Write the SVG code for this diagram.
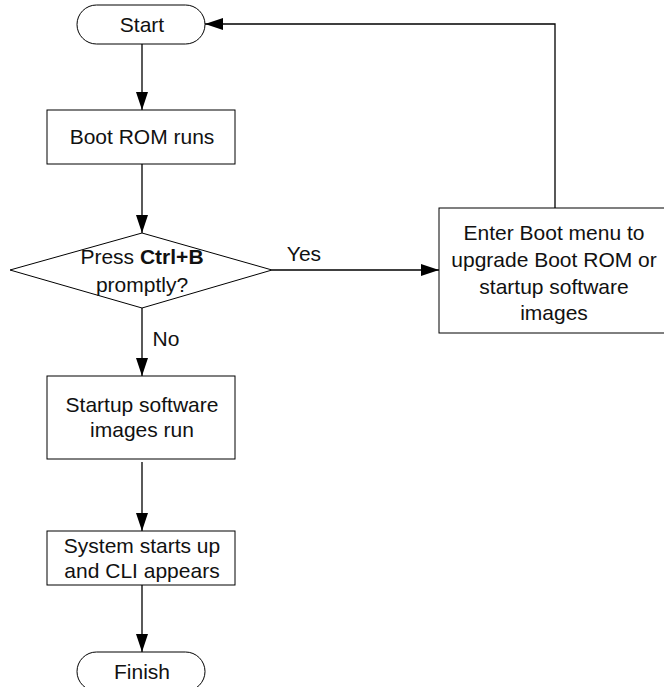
<svg xmlns="http://www.w3.org/2000/svg" width="664" height="687" viewBox="0 0 664 687">
<defs>
<marker id="arr" markerUnits="userSpaceOnUse" markerWidth="18" markerHeight="12" refX="18" refY="6" orient="auto">
<path d="M0,0 L18,6 L0,12 z" fill="#000"/>
</marker>
<style>
.n{fill:#fff;stroke:#000;stroke-width:1}
.t{font-family:"Liberation Sans",Arial,sans-serif;font-size:21px;fill:#111;text-anchor:middle}
.c{fill:none;stroke:#000;stroke-width:1.3}
</style>
</defs>
<rect width="664" height="687" fill="#fff"/>
<g id="connectors">
<line class="c" x1="142" y1="44" x2="142" y2="110" marker-end="url(#arr)"/>
<line class="c" x1="142" y1="164" x2="142" y2="233" marker-end="url(#arr)"/>
<line class="c" x1="272" y1="270" x2="439" y2="270" marker-end="url(#arr)"/>
<polyline class="c" points="555,208 555,24 205,24" marker-end="url(#arr)"/>
<line class="c" x1="142" y1="308" x2="142" y2="376" marker-end="url(#arr)"/>
<line class="c" x1="142" y1="462" x2="142" y2="531" marker-end="url(#arr)"/>
<line class="c" x1="142" y1="585" x2="142" y2="652" marker-end="url(#arr)"/>
<text class="t" x="304" y="261">Yes</text>
<text class="t" x="166" y="346">No</text>
</g>
<g id="start">
<rect class="n" x="77" y="5" width="128" height="39" rx="19.5"/>
<text class="t" x="142" y="32">Start</text>
</g>
<g id="bootrom">
<rect class="n" x="47" y="110" width="188" height="54"/>
<text class="t" x="142" y="144">Boot ROM runs</text>
</g>
<g id="decision">
<polygon class="n" points="10,270 142,233 272,270 142,308"/>
<text class="t" x="142" y="264">Press <tspan font-weight="bold">Ctrl+B</tspan></text>
<text class="t" x="142" y="292">promptly?</text>
</g>
<g id="bootmenu">
<rect class="n" x="439" y="208" width="230" height="125"/>
<text class="t" x="554" y="240">Enter Boot menu to</text>
<text class="t" x="554" y="267">upgrade Boot ROM or</text>
<text class="t" x="554" y="294">startup software</text>
<text class="t" x="554" y="320">images</text>
</g>
<g id="startup">
<rect class="n" x="47" y="376" width="188" height="83"/>
<text class="t" x="142" y="412">Startup software</text>
<text class="t" x="142" y="437">images run</text>
</g>
<g id="system">
<rect class="n" x="47" y="531" width="188" height="54"/>
<text class="t" x="142" y="553">System starts up</text>
<text class="t" x="142" y="578">and CLI appears</text>
</g>
<g id="finish">
<rect class="n" x="77" y="652" width="128" height="39" rx="19.5"/>
<text class="t" x="142" y="679">Finish</text>
</g>
</svg>
